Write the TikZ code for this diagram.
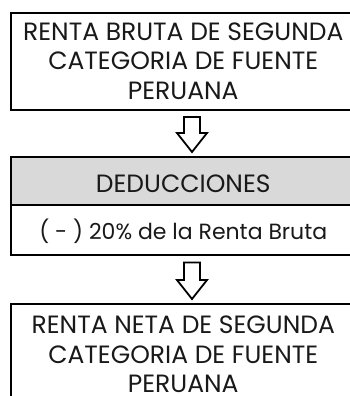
\documentclass[tikz,border=0pt]{standalone}
\usepackage{fontspec}
\setmainfont{Poppins}
\usetikzlibrary{calc}
\tikzset{
  box/.style={draw=black, line width=2pt, minimum width=345.5pt, inner sep=0pt, outer sep=0pt,
    align=center, text=black!90, font=\fontsize{25}{29.5}\selectfont},
  barrow/.style={draw=black, fill=white, line width=1.8pt, line join=miter}
}
\newcommand{\blockarrow}[2]{%
  \path let \p1=($(#1.south)+(8.75pt,-7.5pt)$), \p2=($(#2.north)+(8.75pt,5pt)$) in
    [barrow] (\x1-8pt,\y1) -- (\x1+8pt,\y1) -- (\x1+8pt,\y2+19pt) -- (\x1+15pt,\y2+19pt)
    -- (\x2,\y2) -- (\x1-15pt,\y2+19pt) -- (\x1-8pt,\y2+19pt) -- cycle;}
\begin{document}
\begin{tikzpicture}[x=1pt,y=1pt]
\useasboundingbox (0,0) rectangle (350,-396);
\clip (0,0) rectangle (350,-396);
\node[box, minimum height=96.5pt] (top) at (183.25,-61.25)
  {RENTA BRUTA DE SEGUNDA\\CATEGORIA DE FUENTE\\PERUANA};
\node[box, fill=black!15, minimum height=48pt, text height=22pt, text depth=0pt] (ded) at (183.25,-181) {DEDUCCIONES};
\node[box, minimum height=50pt, text height=18pt, text depth=0pt, font=\fontsize{22}{26}\selectfont] (pct) at (183.25,-230) {( - ) 20\% de la Renta Bruta};
\node[box, minimum height=101pt] (net) at (183.25,-354.5)
  {RENTA NETA DE SEGUNDA\\CATEGORIA DE FUENTE\\PERUANA};
\blockarrow{top}{ded}
\blockarrow{pct}{net}
\end{tikzpicture}
\end{document}
